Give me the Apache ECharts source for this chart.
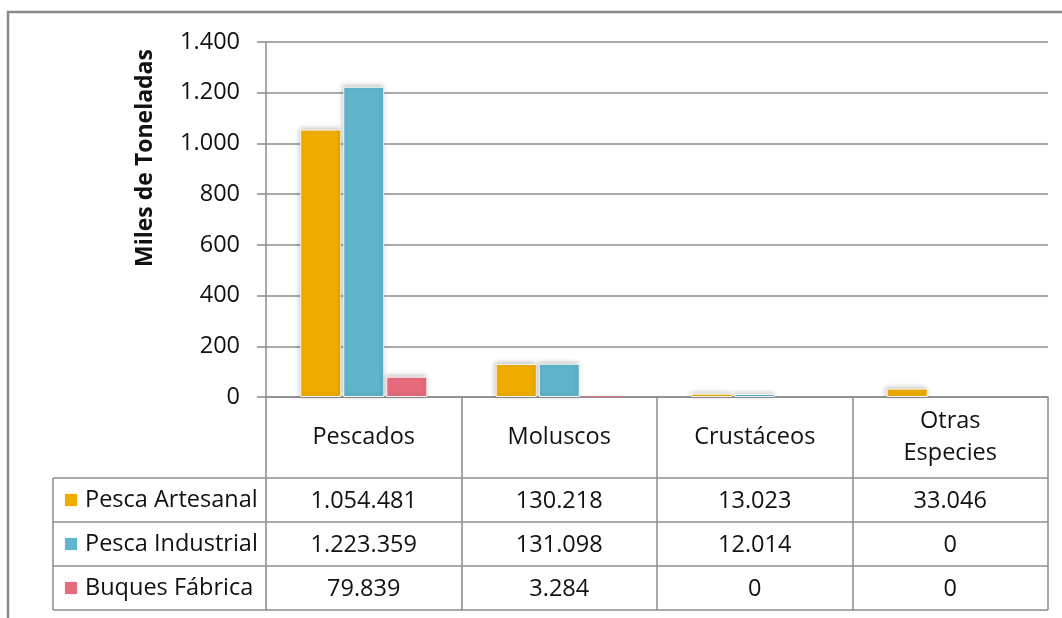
<!DOCTYPE html>
<html>
<head>
<meta charset="utf-8">
<title>Desembarques por tipo de especie</title>
<script src="https://cdn.jsdelivr.net/npm/echarts@6/dist/echarts.min.js"></script>
<style>
  html, body { margin: 0; padding: 0; background: #fff; }
  #chart { width: 1062px; height: 618px; }
</style>
</head>
<body>
<div id="chart"></div>
<script>
// Landings in tonnes, by species group and fleet
const categories = ['Pescados', 'Moluscos', 'Crustáceos', 'Otras\nEspecies'];
const seriesNames = ['Pesca Artesanal', 'Pesca Industrial', 'Buques Fábrica'];
const artesanal = [1054481, 130218, 13023, 33046];
const industrial = [1223359, 131098, 12014, 0];
const buques = [79839, 3284, 0, 0];
const yTicks = { min: 0, max: 1400, interval: 200 };
const colors = ['#F0AD00', '#60B4CC', '#E66B7D'];

// Spanish thousands separator
const fmt = v => String(v).replace(/\B(?=(\d{3})+(?!\d))/g, '.');

// Layout constants
const W = 1062, H = 618;
const PLOT_LEFT = 266, PLOT_RIGHT = 1048, PLOT_TOP = 42, AXIS_Y = 397;
const HEADER_H = 81, ROW_H = 44, LEGEND_X = 53;
const TABLE_BOTTOM = AXIS_Y + HEADER_H + ROW_H * 3;
const FONT = '"Open Sans", "Noto Sans", sans-serif';
const FS = 23.5;
const LINE = '#8C8C8C';
const TXT = '#111';

const rows = [artesanal, industrial, buques];

const xAxes = [{
  type: 'category',
  data: categories,
  position: 'bottom',
  axisLine: { show: true, lineStyle: { color: LINE, width: 1.5 } },
  axisTick: { show: true, interval: 0, length: TABLE_BOTTOM - AXIS_Y, lineStyle: { color: LINE, width: 1.5 } },
  axisLabel: {
    interval: 0, margin: HEADER_H / 2, verticalAlign: 'middle',
    fontFamily: FONT, fontSize: FS, color: TXT, lineHeight: 32
  }
}];
rows.forEach((vals, i) => {
  xAxes.push({
    type: 'category',
    data: vals.map(fmt),
    position: 'bottom',
    offset: HEADER_H + ROW_H * i,
    axisLine: { show: false },
    axisTick: { show: false },
    axisLabel: {
      interval: 0, margin: ROW_H / 2 + 1, verticalAlign: 'middle',
      fontFamily: FONT, fontSize: FS, color: TXT
    }
  });
});

// Frame, table rules and the vertical axis title
const graphics = [{
  type: 'rect',
  shape: { x: 8, y: 12, width: W + 40, height: H + 40 },
  style: { fill: 'none', stroke: '#8A8A8A', lineWidth: 2.5 },
  silent: true, z: -1
}];
for (let r = 0; r <= 3; r++) {
  const y = AXIS_Y + HEADER_H + ROW_H * r;
  graphics.push({
    type: 'line', silent: true,
    shape: { x1: LEGEND_X, y1: y, x2: PLOT_RIGHT, y2: y },
    style: { stroke: LINE, lineWidth: 1.5 }
  });
}
graphics.push({
  type: 'line', silent: true,
  shape: { x1: LEGEND_X, y1: AXIS_Y + HEADER_H, x2: LEGEND_X, y2: TABLE_BOTTOM },
  style: { stroke: LINE, lineWidth: 1.5 }
});
graphics.push({
  type: 'text', silent: true,
  x: 145, y: 158, rotation: Math.PI / 2,
  style: {
    text: 'Miles de Toneladas', align: 'center', verticalAlign: 'middle',
    font: 'bold 23px ' + FONT, fill: TXT
  }
});

const barStyle = color => ({
  color,
  borderColor: 'rgba(255,255,255,0.9)', borderWidth: 1,
  shadowBlur: 5, shadowColor: 'rgba(0,0,0,0.25)', shadowOffsetX: -1, shadowOffsetY: -1
});

const chart = echarts.init(document.getElementById('chart'), null, { renderer: 'canvas' });
chart.setOption({
  animation: false,
  backgroundColor: '#fff',
  color: colors,
  grid: {
    left: PLOT_LEFT, right: W - PLOT_RIGHT, top: PLOT_TOP, bottom: H - AXIS_Y,
    containLabel: false, outerBoundsMode: 'none'
  },
  legend: {
    orient: 'vertical',
    left: LEGEND_X + 10,
    top: AXIS_Y + HEADER_H + ROW_H / 2 - 15,
    padding: 0,
    itemGap: ROW_H - 30,
    itemWidth: 14, itemHeight: 14,
    icon: 'rect',
    selectedMode: false,
    data: seriesNames,
    textStyle: { fontFamily: FONT, fontSize: FS, color: TXT, lineHeight: 30, padding: [0, 0, 0, 2] }
  },
  xAxis: xAxes,
  yAxis: {
    type: 'value',
    min: yTicks.min, max: yTicks.max, interval: yTicks.interval,
    axisLine: { show: true, lineStyle: { color: LINE, width: 1.5 } },
    axisTick: { show: true, length: 9, lineStyle: { color: LINE, width: 1.5 } },
    axisLabel: { margin: 26, fontFamily: FONT, fontSize: FS, color: TXT, formatter: v => fmt(v) },
    splitLine: { show: true, lineStyle: { color: LINE, width: 1.5 } }
  },
  graphic: graphics,
  series: rows.map((vals, i) => ({
    name: seriesNames[i],
    type: 'bar',
    xAxisIndex: 0,
    barWidth: 41,
    barGap: '5%',
    itemStyle: barStyle(colors[i]),
    // tiny or empty values get no edge or shadow, so nothing shows above the axis
    data: vals.map(v => v < 5000
      ? { value: v / 1000, itemStyle: { borderWidth: 0, shadowBlur: 0, shadowOffsetX: 0, shadowOffsetY: 0 } }
      : v / 1000)
  }))
});
</script>
</body>
</html>
